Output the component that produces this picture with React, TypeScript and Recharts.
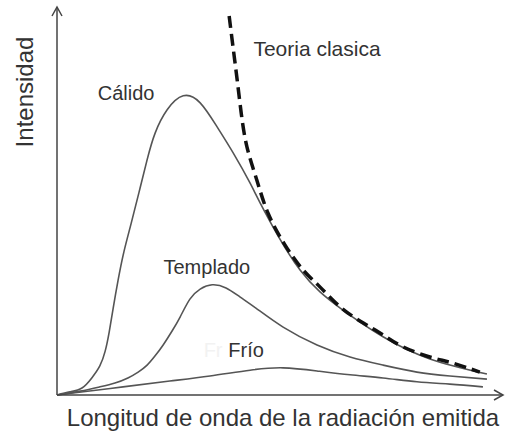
import { LineChart, Line, XAxis, YAxis, ReferenceDot } from "recharts";

// x = longitud de onda, y = intensidad (unidades arbitrarias, 0-100)
const calido = [
  { x: 0, y: 0 }, { x: 2.9, y: 0.8 }, { x: 5.6, y: 1.8 }, { x: 7.8, y: 4.4 },
  { x: 9.6, y: 7.5 }, { x: 10.8, y: 11.3 }, { x: 11.7, y: 16.2 }, { x: 12.6, y: 22.4 },
  { x: 13.7, y: 29.6 }, { x: 15.0, y: 36.9 }, { x: 16.6, y: 44.1 }, { x: 18.4, y: 52.3 },
  { x: 20.2, y: 60.6 }, { x: 22.0, y: 67.5 }, { x: 24.7, y: 73.5 }, { x: 28.3, y: 77.1 },
  { x: 32.1, y: 75.3 }, { x: 35.9, y: 69.1 }, { x: 39.5, y: 62.4 }, { x: 43.3, y: 54.6 },
  { x: 46.6, y: 47.2 }, { x: 54.5, y: 32.2 }, { x: 63.5, y: 22.4 }, { x: 73.1, y: 15.0 },
  { x: 83.6, y: 9.3 }, { x: 96.4, y: 5.4 },
];

const templado = [
  { x: 0, y: 0 }, { x: 5.2, y: 1.0 }, { x: 9.6, y: 2.1 }, { x: 13.0, y: 3.1 },
  { x: 15.9, y: 4.4 }, { x: 18.2, y: 5.9 }, { x: 20.2, y: 7.7 }, { x: 22.0, y: 10.1 },
  { x: 23.8, y: 12.9 }, { x: 25.8, y: 16.5 }, { x: 27.6, y: 20.1 }, { x: 29.8, y: 24.7 },
  { x: 32.1, y: 27.3 }, { x: 34.8, y: 28.4 }, { x: 37.9, y: 27.6 }, { x: 41.0, y: 25.3 },
  { x: 44.6, y: 22.4 }, { x: 50.7, y: 17.5 }, { x: 58.3, y: 12.9 }, { x: 65.7, y: 9.8 },
  { x: 73.1, y: 7.7 }, { x: 80.7, y: 5.9 }, { x: 88.1, y: 4.9 }, { x: 96.4, y: 4.1 },
];

const frio = [
  { x: 0, y: 0 }, { x: 3.6, y: 0.5 }, { x: 14.8, y: 2.1 }, { x: 25.3, y: 3.6 },
  { x: 34.3, y: 4.9 }, { x: 43.3, y: 6.4 }, { x: 50.7, y: 7.0 }, { x: 58.3, y: 6.2 },
  { x: 65.7, y: 5.2 }, { x: 73.1, y: 4.4 }, { x: 80.7, y: 3.4 }, { x: 88.1, y: 2.8 },
  { x: 95.5, y: 2.1 },
];

const clasica = [
  { x: 38.6, y: 97.7 }, { x: 39.5, y: 89.4 }, { x: 40.4, y: 81.2 }, { x: 41.3, y: 72.7 },
  { x: 42.6, y: 63.9 }, { x: 44.8, y: 55.4 }, { x: 47.3, y: 46.9 }, { x: 51.1, y: 38.7 },
  { x: 55.2, y: 32.2 }, { x: 59.0, y: 27.8 }, { x: 63.5, y: 22.7 }, { x: 68.6, y: 18.6 },
  { x: 73.1, y: 15.5 }, { x: 77.6, y: 12.4 }, { x: 83.6, y: 9.8 }, { x: 88.8, y: 8.2 },
  { x: 94.8, y: 5.9 },
];

const X_TITLE = "Longitud de onda de la radiación emitida";
const Y_TITLE = "Intensidad";

const FONT = "'Liberation Sans', Arial, sans-serif";
const TEXT = "#333";
const AXIS = "#444";
const CURVE = "#555";

const textLabel = (value: string, size: number, color = TEXT) => (props: any) => (
  <text
    x={props.cx}
    y={props.cy}
    textAnchor="middle"
    dominantBaseline="central"
    fontFamily={FONT}
    fontSize={size}
    fill={color}
  >
    {value}
  </text>
);

const ArrowRight = (props: any) => (
  <path
    d={`M${props.cx - 9},${props.cy - 5} L${props.cx},${props.cy} L${props.cx - 9},${props.cy + 5}`}
    fill="none"
    stroke={AXIS}
    strokeWidth={1.5}
  />
);

const ArrowUp = (props: any) => (
  <path
    d={`M${props.cx - 5},${props.cy + 9} L${props.cx},${props.cy} L${props.cx + 5},${props.cy + 9}`}
    fill="none"
    stroke={AXIS}
    strokeWidth={1.5}
  />
);

const App = () => {
  return (
    <div style={{ position: "absolute", left: 0, top: 0 }}>
      <LineChart
        width={512}
        height={431}
        margin={{ top: 7, right: 9, bottom: 0, left: 0 }}
      >
        <XAxis
          type="number"
          dataKey="x"
          domain={[0, 100]}
          tick={false}
          tickLine={false}
          height={36}
          axisLine={{ stroke: AXIS, strokeWidth: 1.5 }}
          label={{
            content: (p: any) => (
              <text
                x={p.viewBox.x + p.viewBox.width / 2 + 3}
                y={p.viewBox.y + 22}
                textAnchor="middle"
                dominantBaseline="central"
                fontFamily={FONT}
                fontSize={24}
                fill={TEXT}
              >
                {X_TITLE}
              </text>
            ),
          }}
        />
        <YAxis
          type="number"
          domain={[0, 100]}
          tick={false}
          tickLine={false}
          width={57}
          axisLine={{ stroke: AXIS, strokeWidth: 1.5 }}
          label={{
            content: (p: any) => (
              <text
                x={p.viewBox.x + 24}
                y={p.viewBox.y + 85}
                transform={`rotate(-90 ${p.viewBox.x + 24} ${p.viewBox.y + 85})`}
                textAnchor="middle"
                dominantBaseline="central"
                fontFamily={FONT}
                fontSize={24}
                fill={TEXT}
              >
                {Y_TITLE}
              </text>
            ),
          }}
        />
        <Line data={frio} dataKey="y" type="natural" stroke={CURVE} strokeWidth={1.6} dot={false} isAnimationActive={false} />
        <Line data={templado} dataKey="y" type="natural" stroke={CURVE} strokeWidth={1.6} dot={false} isAnimationActive={false} />
        <Line data={calido} dataKey="y" type="natural" stroke={CURVE} strokeWidth={1.6} dot={false} isAnimationActive={false} />
        <Line data={clasica} dataKey="y" type="natural" stroke="#111" strokeWidth={3.5} strokeDasharray="12 6" dot={false} isAnimationActive={false} />
        <ReferenceDot x={100} y={0} ifOverflow="visible" shape={ArrowRight} />
        <ReferenceDot x={0} y={100} ifOverflow="visible" shape={ArrowUp} />
        <ReferenceDot x={15.5} y={77.8} shape={textLabel("Cálido", 20)} />
        <ReferenceDot x={58.3} y={89.4} shape={textLabel("Teoria clasica", 21)} />
        <ReferenceDot x={33.6} y={33.0} shape={textLabel("Templado", 20)} />
        <ReferenceDot x={35.0} y={11.6} shape={textLabel("Fr", 20, "#f2f2f2")} />
        <ReferenceDot x={42.4} y={11.6} shape={textLabel("Frío", 20)} />
      </LineChart>
    </div>
  );
};

export default App;
